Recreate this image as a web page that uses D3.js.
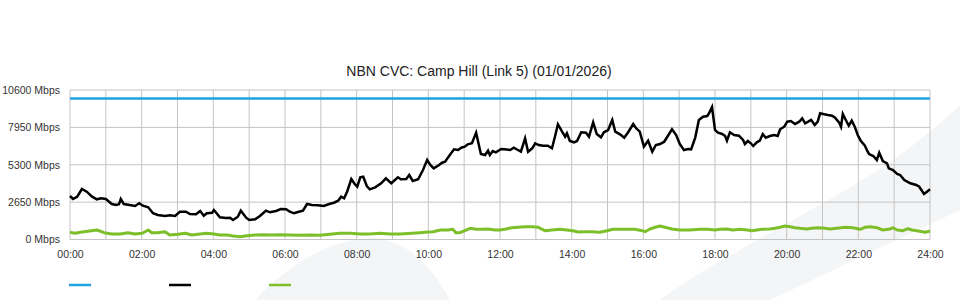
<!DOCTYPE html>
<html>
<head>
<meta charset="utf-8">
<script src="https://cdn.jsdelivr.net/npm/d3@7/dist/d3.min.js"></script>
<style>
  html, body { margin: 0; padding: 0; background: #fff; }
  svg { display: block; font-family: "Liberation Sans", Arial, sans-serif; }
</style>
</head>
<body>
<svg id="chart" width="960" height="300"></svg>
<script>
// ---- data ----
const title = "NBN CVC: Camp Hill (Link 5) (01/01/2026)";
const yTicks = [0, 2650, 5300, 7950, 10600];
const xTickHours = [0, 2, 4, 6, 8, 10, 12, 14, 16, 18, 20, 22, 24];
const gridHours = d3.range(0, 25);

// capacity (blue)
const capMinutes = [0, 1440];
const capMbps = [10000, 10000];

// traffic (black) - minutes since midnight, Mbps
const trafficMinutes = [0,5,12,20,28,37,45,52,60,70,77,82,85,90,100,109,116,122,131,139,147,159,167,176,184,194,201,211,218,
  224,229,238,241,251,261,268,273,281,286,295,300,310,318,328,335,345,353,362,368,375,383,390,397,405,415,425,434,442,449,454,459,464,471,477,481,486,491,497,502,511,521,529,538,549,554,563,568,574,583,591,598,603,609,618,623,
  628,636,643,650,655,661,666,673,680,688,695,700,703,708,713,722,728,737,743,750,755,762,767,774,779,785,792,800,807,812,817,824,829,832,837,844,849,856,864,869,876,882,889,894,901,908,913,921,928,934,943,948,954,961,968,975,981,988,995,1001,1008,1015,1021,1028,1035,1040,1047,1053,1060,1067,1070,1075,1080,
  1085,1092,1097,1100,1105,1112,1120,1127,1130,1135,1140,1144,1150,1155,1160,1165,1172,1179,1185,1189,1196,1201,1207,1214,1221,1226,1231,1236,1241,1247,1252,1256,1263,1269,1276,1281,1288,1291,1294,1299,1304,1309,1314,1319,1324,1331,1335,1338,1345,1351,1355,1361,1368,1371,1378,1385,1390,1397,1407,1417,1422,1430,1435,1440];
const trafficMbps = [3084,2872,3034,3580,3389,3034,2850,2921,2871,2517,2446,2496,2871,2517,2446,2375,2567,2396,2283,1858,1737,1666,1716,1666,1971,1971,1808,1787,2021,
  1687,1858,1900,2092,1574,1524,1546,1383,1617,2042,1546,1383,1432,1666,2042,1928,2021,2162,2141,1971,1858,1971,2042,2517,2446,2425,2375,2517,2609,2751,3034,2921,3389,4289,3914,3744,4410,4453,3793,3559,3701,3985,4339,3985,4410,4268,4289,4573,4148,4268,4928,5637,5303,5048,5282,5445,
  5516,5991,6395,6346,6509,6580,6750,6821,7572,6062,5991,6296,5991,6275,6182,6416,6395,6346,6509,6346,6225,7175,6225,6466,6821,6700,6650,6650,6466,7289,8168,7643,7289,7530,6984,6891,6984,7601,7572,7289,8309,7480,7246,7601,7764,8473,7643,7459,7218,7572,8189,7884,7643,6580,7005,6225,6700,6771,6934,7338,7813,7409,6771,6346,6416,6395,7246,8473,8707,8756,8948,9394,7764,
  7572,7480,7338,7005,7601,7409,7359,7055,6771,6984,6821,6629,6891,7005,7480,7218,7338,7409,7338,7813,7998,8352,8402,8188,8352,8593,8239,8352,8473,8118,8352,8948,8877,8827,8777,8636,8281,7998,8898,8473,8068,8423,7998,7409,7005,6650,6275,6062,5920,5637,6154,5566,5401,5048,4928,4644,4573,4219,3985,3864,3744,3226,3389,3559];

// upload (green)
const uploadMinutes = [0,8,20,33,45,57,70,84,97,109,121,131,137,147,159,167,181,193,204,218,229,241,251,263,273,285,296,310,323,338,352,368,385,402,419,435,452,469,486,502,519,536,553,573,586,594,608,620,633,641,646,653,661,670,680,690,700,712,720,730,740,750,762,774,784,795,807,820,832,842,851,862,874,887,899,909,921,933,946,958,963,971,980,988,996,1008,1021,1038,1055,1068,1080,1088,1100,1110,1122,1134,1142,1150,1159,1172,1180,1189,1197,1206,1214,1222,1234,1242,1252,1264,1273,1284,1298,1311,1323,1331,1340,1351,1361,1373,1378,1385,1395,1403,1410,1420,1432,1440];
const uploadMbps = [510,440,532,603,674,482,390,390,482,390,440,674,482,482,553,319,369,440,319,390,440,390,319,319,248,199,269,319,340,319,340,319,298,319,298,369,440,440,390,390,440,390,390,440,482,510,553,674,674,723,482,482,624,794,723,723,744,674,674,744,837,865,908,908,865,624,674,723,674,624,532,553,553,510,624,723,723,723,723,624,553,744,865,957,865,744,674,674,723,723,674,723,744,674,723,674,624,674,723,744,794,865,957,908,837,794,744,794,837,794,744,794,865,837,723,865,908,837,674,744,837,674,624,766,674,603,510,603];

const legendColors = ["#1ea3e0", "#000000", "#7dbf2b"];

// ---- drawing ----
const svg = d3.select("#chart");
const margin = { left: 70, right: 30, top: 90, bottom: 60.5 };
const W = 960, H = 300;
const x = d3.scaleLinear().domain([0, 1440]).range([margin.left, W - margin.right]);
const y = d3.scaleLinear().domain([0, 10600]).range([H - margin.bottom, margin.top]);

// decorative light background shapes
const bg = svg.append("g").attr("fill", "#f4f5f7");
bg.append("path").attr("d", "M255,300 C290,262 335,238 372,238 C400,240 425,255 450,300 Z");
bg.append("path").attr("d", "M660,300 C720,255 840,200 907,150 C930,132 950,115 960,105 L960,210 L770,300 Z");

// grid
const grid = svg.append("g").attr("stroke", "#c4c4c4").attr("stroke-width", 1).attr("fill", "none");
grid.selectAll("line.v").data(gridHours).join("line").attr("class", "v")
  .attr("x1", d => x(d * 60)).attr("x2", d => x(d * 60))
  .attr("y1", y(10600)).attr("y2", y(0));
grid.selectAll("line.h").data(yTicks).join("line").attr("class", "h")
  .attr("x1", x(0)).attr("x2", x(1440))
  .attr("y1", d => y(d)).attr("y2", d => y(d));

// axes (labels only)
const fmtHour = h => String(h).padStart(2, "0") + ":00";
const xAxis = d3.axisBottom(x).tickValues(xTickHours.map(h => h * 60))
  .tickFormat(m => fmtHour(m / 60)).tickSize(0).tickPadding(11);
const gx = svg.append("g").attr("transform", `translate(0,${y(0)})`).call(xAxis);
gx.select(".domain").remove();
gx.selectAll("text").attr("font-size", 10.5).attr("fill", "#333").attr("font-family", "Liberation Sans, Arial, sans-serif");

const yAxis = d3.axisLeft(y).tickValues(yTicks).tickFormat(v => v + " Mbps").tickSize(0).tickPadding(10);
const gy = svg.append("g").attr("transform", `translate(${x(0)},0)`).call(yAxis);
gy.select(".domain").remove();
gy.selectAll("text").attr("font-size", 10.5).attr("fill", "#333").attr("font-family", "Liberation Sans, Arial, sans-serif");

// series
const line = d3.line().x(d => x(d[0])).y(d => y(d[1]));
const zip = (a, b) => a.map((v, i) => [v, b[i]]);
svg.append("path").datum(zip(uploadMinutes, uploadMbps))
  .attr("fill", "none").attr("stroke", legendColors[2]).attr("stroke-width", 3)
  .attr("stroke-linejoin", "round").attr("d", line);
svg.append("path").datum(zip(trafficMinutes, trafficMbps))
  .attr("fill", "none").attr("stroke", legendColors[1]).attr("stroke-width", 2.5)
  .attr("stroke-linejoin", "miter").attr("d", line);
svg.append("path").datum(zip(capMinutes, capMbps))
  .attr("fill", "none").attr("stroke", legendColors[0]).attr("stroke-width", 2.5).attr("d", line);

// title
svg.append("text").attr("x", 479).attr("y", 76).attr("text-anchor", "middle")
  .attr("font-size", 14).attr("fill", "#222").text(title);

// legend swatches
svg.append("g").selectAll("line").data(legendColors).join("line")
  .attr("x1", (d, i) => 69 + i * 100).attr("x2", (d, i) => 91 + i * 100)
  .attr("y1", 285).attr("y2", 285)
  .attr("stroke", d => d).attr("stroke-width", 2.5);
</script>
</body>
</html>
